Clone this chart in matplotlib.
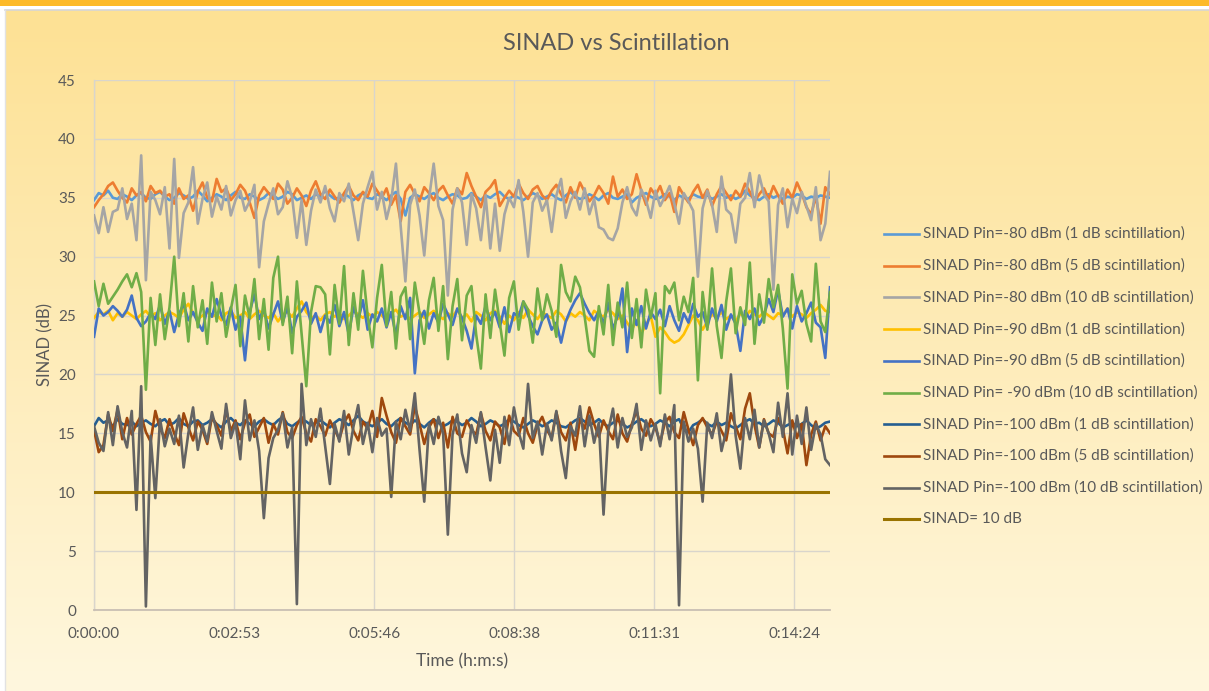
import numpy as np
import matplotlib
matplotlib.use("Agg")
import matplotlib.pyplot as plt
from matplotlib.lines import Line2D
from matplotlib.colors import to_rgb

# ---------------- data ----------------
sample_step_s = 5.82  # seconds between samples
tick_labels = ["0:00:00", "0:02:53", "0:05:46", "0:08:38", "0:11:31", "0:14:24"]
tick_step_s = 172.8
y_ticks = [0, 5, 10, 15, 20, 25, 30, 35, 40, 45]

pin80_1db = [
    34.8, 35.4, 35.2, 35.6, 35.0, 34.9, 35.3, 35.1, 34.8, 35.2, 35.4, 35.0,
    34.9, 35.3, 35.5, 35.1, 34.8, 35.0, 35.4, 35.2, 34.9, 35.1, 35.6, 35.2,
    34.7, 35.0, 35.3, 35.1, 34.8, 35.2, 35.5, 35.0, 34.9, 35.3, 35.1, 34.8,
    35.0, 35.4, 35.2, 34.9, 35.1, 35.5, 35.3, 34.8, 35.0, 35.2, 34.9, 35.3,
    35.1, 35.6, 35.2, 34.9, 35.0, 35.3, 35.1, 34.8, 35.2, 35.4, 35.0, 34.9,
    35.3, 35.1, 34.8, 35.2, 35.5, 34.9, 33.5, 35.0, 35.3, 35.1, 34.9, 35.2,
    35.4, 35.0, 34.8, 35.1, 35.3, 35.2, 34.9, 35.0, 35.4, 35.1, 34.8, 35.2,
    35.0, 35.3, 35.5, 35.1, 34.9, 35.2, 35.0, 34.8, 35.1, 35.4, 35.2, 34.9,
    35.1, 35.3, 35.0, 34.8, 35.2, 35.5, 35.1, 34.9, 35.0, 35.3, 35.1, 34.8,
    35.2, 35.4, 35.0, 34.9, 35.1, 35.3, 34.6, 35.0, 35.2, 35.4, 35.1, 34.9,
    35.0, 35.3, 35.1, 34.8, 35.2, 35.0, 34.9, 35.3, 35.1, 35.0, 35.2, 34.9,
    35.1, 35.3, 35.0, 35.2, 34.9, 35.1, 35.6, 35.2, 35.0, 34.8, 35.1, 35.3,
    35.0, 35.2, 34.9, 35.1, 35.0, 35.3, 35.2, 34.9, 35.1, 35.0, 35.2, 35.1,
    35.0]

pin80_5db = [
    34.2, 34.8, 35.3, 36.0, 36.3, 35.6, 35.0, 34.6, 35.8, 35.2, 35.5, 34.7,
    36.0, 35.4, 35.6, 35.1, 35.3, 34.5, 35.8, 34.9, 35.2, 33.9, 35.5, 36.3,
    35.0, 34.7, 36.6, 35.5, 35.8, 34.8, 35.3, 36.1, 35.6, 34.6, 33.3, 35.2,
    35.9, 35.4, 34.9, 36.2, 35.7, 34.5, 35.0, 35.8, 35.2, 34.3, 35.6, 36.4,
    35.3, 34.9, 35.7, 35.1, 34.6, 35.4, 36.0, 35.2, 34.8, 35.5, 35.1, 36.2,
    35.6, 35.0, 35.8, 34.4, 35.2, 33.0, 35.5, 36.1, 35.3, 34.7, 35.9, 35.4,
    34.8, 35.6, 36.0, 35.2, 34.5, 35.8, 35.3, 37.1, 36.0, 35.1, 34.2, 35.5,
    35.9, 36.5, 34.3, 35.0, 35.6, 35.1, 36.2, 35.4, 34.9, 35.7, 36.0, 35.2,
    34.8, 35.6, 36.1, 35.3, 34.6, 35.9, 35.0, 36.3, 35.5, 34.7, 35.2, 36.0,
    35.4, 34.5, 36.8, 35.1, 35.7, 34.9, 35.3, 37.0, 35.6, 34.4, 35.8, 35.2,
    36.0, 34.8, 35.4, 33.8, 35.9, 35.2, 34.6, 35.5, 36.1, 35.0, 35.7, 34.3,
    35.3, 36.0, 35.4, 34.8, 35.6, 35.1, 36.2, 35.5, 34.7, 35.3, 35.8, 34.9,
    36.0, 35.2, 34.5, 35.7, 35.0, 36.3, 35.4, 34.2, 33.6, 35.1, 32.8, 35.9,
    35.3]

pin80_10db = [
    33.5, 32.0, 34.2, 32.1, 33.8, 34.0, 35.8, 33.2, 34.5, 31.4, 38.6, 28.0,
    35.5, 34.8, 33.6, 35.9, 30.7, 38.3, 29.9, 33.7, 34.6, 37.6, 32.8, 34.9,
    36.3, 33.4, 35.1, 34.0, 36.0, 33.5, 34.8, 35.6, 33.9, 34.7, 36.1, 29.1,
    33.0, 34.5, 35.8, 33.6, 34.2, 36.4, 35.0, 31.6, 34.8, 31.0, 33.9, 35.7,
    34.6, 36.0, 34.1, 33.0, 35.4, 34.7, 36.2, 33.8, 31.4, 34.5, 35.9, 37.2,
    34.0, 35.5, 33.2, 34.8, 37.9, 32.6, 27.9, 34.4, 35.7, 33.5, 30.1, 34.9,
    37.9, 34.3, 33.1, 26.7, 34.0, 35.8, 34.6, 31.0, 35.3, 34.1, 31.4, 35.2,
    30.7, 34.5, 30.5, 33.6, 35.0, 34.2, 36.5, 33.8, 30.0, 34.6, 35.4, 33.9,
    34.8, 32.1, 35.2, 36.6, 33.3, 34.7, 35.5, 34.0, 35.8, 33.6, 34.9, 32.5,
    32.3, 31.6, 31.4, 32.4, 34.6, 35.9, 34.2, 33.5, 35.7, 34.8, 33.3, 35.6,
    34.3, 35.1, 36.0, 34.5, 32.8, 35.4, 34.7, 33.9, 28.3, 34.1, 35.6, 34.4,
    32.1, 36.8, 34.0, 33.6, 31.2, 34.5, 35.0, 37.1, 34.2, 36.9, 35.3, 34.7,
    27.2, 34.4, 35.8, 32.5, 34.9, 33.7, 35.5, 34.3, 33.1, 35.9, 31.4, 32.8,
    37.2]

pin90_1db = [
    24.8, 25.3, 25.1, 25.4, 24.6, 25.2, 24.9, 25.3, 25.0, 24.7, 25.1, 25.4,
    24.9, 25.2, 24.6, 25.0, 25.3, 25.1, 24.8, 25.5, 26.0, 25.2, 24.7, 25.0,
    25.3, 24.9, 25.1, 24.6, 25.2, 25.4, 24.8, 25.0, 25.3, 24.7, 25.1, 25.4,
    25.0, 24.8, 25.2, 24.5, 25.1, 25.3, 24.9, 25.6, 26.2, 25.3, 24.8, 25.0,
    24.6, 25.1, 25.3, 24.9, 25.2, 24.7, 25.0, 25.4, 25.1, 24.8, 25.2, 24.9,
    25.3, 25.0, 24.6, 25.2, 25.5, 24.9, 25.1, 24.7, 25.0, 25.3, 24.8, 25.1,
    25.4, 25.0, 24.7, 25.2, 24.9, 25.5, 24.8, 25.1, 24.5, 25.3, 25.0, 24.6,
    25.2, 25.4, 24.9, 24.3, 25.0, 24.6, 25.3, 24.8, 25.5, 25.1, 24.7, 25.3,
    25.0, 24.8, 25.4, 25.1, 24.5, 25.2, 24.9, 25.3, 25.0, 24.6, 25.4, 25.1,
    24.9, 25.5, 25.2, 24.7, 25.0, 24.4, 23.8, 24.6, 23.5, 24.2, 25.0, 23.2,
    24.0, 23.6, 23.0, 22.7, 22.9, 23.4, 24.2, 25.0, 24.6, 23.8, 24.5, 25.1,
    24.8, 25.3, 24.7, 25.0, 24.5, 25.2, 24.8, 25.4, 25.1, 24.9, 25.3, 25.0,
    24.7, 25.2, 25.0, 25.6, 24.9, 25.3, 25.1, 24.8, 25.2, 25.5, 25.9, 25.4,
    25.3]

pin90_5db = [
    23.2, 25.6, 25.0, 25.3, 25.8, 25.4, 24.9, 25.5, 26.7, 24.8, 24.1, 24.5,
    25.2, 24.7, 25.9, 24.3, 25.4, 23.6, 25.1, 26.0, 24.6, 25.3, 24.4, 23.7,
    25.6, 24.9, 26.4, 25.0, 24.2, 25.7, 23.8, 24.9, 21.2, 25.3, 26.8, 24.7,
    25.5, 23.9, 25.1, 26.2, 24.4, 25.8, 23.5, 24.9, 25.4, 26.1, 24.3, 25.2,
    23.6, 25.0, 24.4, 25.9, 24.1, 25.3, 23.4, 25.7, 24.6, 26.3, 23.8, 25.1,
    24.5, 25.6, 24.0, 25.3, 23.3, 25.8, 24.7, 26.5, 20.1, 24.6, 25.4, 23.9,
    25.2, 24.4, 26.0, 25.1, 24.2, 25.6, 24.8, 23.7, 22.2, 25.0, 24.3, 25.8,
    24.6, 25.3, 24.0, 25.7, 23.6, 25.2, 24.9, 26.2, 25.0, 24.1, 23.4, 24.6,
    25.1, 23.8, 24.4, 22.7, 24.5, 25.5, 26.3, 26.9, 26.0, 25.2, 24.6, 25.4,
    24.3, 26.1, 23.8, 25.0, 27.3, 21.9, 25.6, 24.2, 25.8, 23.9, 25.3, 24.7,
    25.5, 24.1, 25.8, 24.6, 23.7, 25.2, 24.4, 26.0, 24.9, 25.3, 24.0, 25.6,
    24.5, 25.9, 23.8, 25.1, 24.3, 22.0, 25.4, 24.7, 25.6, 24.2, 25.0, 26.4,
    25.3, 27.2, 24.9, 25.6, 23.9, 25.8, 24.5, 25.2, 26.1, 24.4, 24.0, 21.4,
    27.4]

pin90_10db = [
    27.9, 25.8, 27.7, 26.0, 26.6, 27.2, 27.9, 28.5, 27.4, 28.6, 27.0, 18.7,
    26.5, 22.5, 26.8, 23.0, 25.7, 30.0, 24.1, 26.9, 22.8, 27.5, 24.0, 26.3,
    22.6, 27.8, 24.5, 26.9, 23.2, 25.5, 27.6, 22.4, 26.7, 24.8, 28.1, 23.0,
    26.4, 22.1, 28.2, 30.0, 24.2, 26.6, 21.8, 27.9, 23.5, 19.0, 25.3, 27.5,
    27.4, 26.8, 21.7, 27.6, 24.3, 29.2, 22.5, 26.9, 23.8, 28.8, 25.0, 22.3,
    26.5, 29.3, 24.1, 27.0, 22.2, 26.6, 27.4, 23.0, 27.8, 25.2, 22.6, 26.3,
    28.2, 23.7, 27.5, 21.3, 25.8, 28.1, 22.9, 26.7, 27.5, 23.4, 20.5, 26.8,
    23.1, 27.2, 24.4, 21.6, 26.5, 27.9, 23.8, 26.2, 25.5, 22.7, 27.3, 24.6,
    26.8, 25.4, 23.2, 29.3, 27.0, 26.2, 28.3, 27.4, 24.9, 22.0, 21.5, 25.8,
    23.4, 27.6, 22.5, 26.1, 24.0, 27.8, 23.1, 26.4, 22.3, 27.2, 24.8, 26.9,
    18.4, 27.5, 26.9, 27.8, 24.6, 26.6, 25.3, 28.2, 19.5, 27.0, 23.8, 29.0,
    24.1, 21.4, 26.2, 29.0, 23.5, 25.7, 24.2, 29.5, 22.6, 26.8, 24.4, 28.1,
    25.7, 27.6, 23.9, 18.8, 28.5, 26.0, 27.1, 24.3, 22.8, 29.4, 24.5, 23.6,
    27.0]

pin100_1db = [
    15.6, 16.3, 15.9, 16.1, 15.6, 16.2, 15.8, 15.7, 16.0, 15.6, 15.9, 16.1,
    15.8, 15.6, 16.0, 16.2, 15.7, 15.9, 16.3, 15.8, 15.6, 16.0, 16.1, 15.7,
    15.9, 16.2, 15.8, 15.5, 16.0, 16.3, 15.9, 15.7, 16.1, 15.8, 15.6, 16.0,
    16.2, 15.9, 15.7, 16.1, 16.4, 15.8, 15.6, 15.9, 16.2, 16.0, 15.7, 15.9,
    16.1, 15.8, 15.5, 15.9, 16.2, 16.0, 15.7, 16.1, 16.5, 16.0, 15.8, 15.6,
    15.9, 16.2, 15.8, 15.6, 16.0, 16.3, 15.9, 15.7, 16.1, 15.8, 15.5, 15.9,
    16.2, 15.9, 15.6, 15.8, 16.1, 16.0, 15.7, 15.9, 16.3, 16.0, 15.6, 15.8,
    16.1, 15.9, 15.6, 15.8, 16.2, 16.0, 15.7, 15.5, 15.8, 16.1, 15.9, 15.6,
    15.8, 16.1, 15.9, 15.6, 15.5, 15.8, 16.1, 16.3, 16.0, 15.7, 15.9, 16.2,
    15.8, 15.6, 15.9, 16.1, 15.8, 15.5, 15.7, 16.0, 16.2, 15.9, 15.6, 15.8,
    16.1, 15.9, 15.6, 16.0, 16.2, 15.4, 15.1, 15.7, 15.9, 16.2, 15.8, 15.6,
    16.0, 15.7, 15.9, 15.6, 15.4, 15.7, 16.0, 16.2, 15.8, 15.9, 15.6, 15.8,
    16.1, 15.9, 15.5, 15.7, 15.9, 15.6, 15.8, 16.1, 15.7, 15.4, 15.6, 15.9,
    16.0]

pin100_5db = [
    15.3, 13.4, 14.0, 16.6, 15.2, 17.0, 14.5, 16.3, 14.9, 15.8, 16.5, 15.1,
    14.3, 16.9, 15.4, 14.6, 16.2, 15.0, 14.0, 16.7, 15.5, 14.4, 16.0, 15.3,
    14.1, 16.4, 15.7, 14.8, 17.0, 15.2, 16.1, 14.5, 15.9, 16.6, 14.7, 15.5,
    16.3, 14.2, 15.8, 14.9, 16.8, 15.1, 14.6, 15.7, 16.4, 15.0, 14.3, 16.2,
    15.6, 14.8, 16.1, 15.3, 14.5, 15.9, 16.6, 15.2, 14.4, 16.0, 15.4, 16.9,
    14.7, 18.0, 16.5, 15.1, 14.2, 16.3, 15.6, 14.9, 17.3, 15.8, 14.1, 15.5,
    16.2, 14.6, 15.9, 13.8, 16.4, 15.0, 14.7, 16.1, 15.3, 14.9, 16.7, 15.2,
    14.4, 16.0, 15.5, 14.1, 16.5, 15.2, 14.8, 16.3, 15.0, 14.2, 15.7, 16.4,
    15.3, 14.6, 16.8, 15.1, 14.4, 15.9, 13.6, 16.2, 15.4, 17.2, 15.8, 14.7,
    16.1, 15.2, 14.5, 16.6, 15.0, 14.3, 15.8, 16.9, 15.4, 14.8, 16.2, 15.5,
    14.2, 15.9, 16.4, 15.1, 14.6, 16.8, 15.3, 14.0, 15.7, 16.3, 15.5, 14.9,
    16.0, 15.2, 14.4, 16.7, 15.6, 14.5, 17.1, 18.4, 15.7, 13.8, 16.2, 15.0,
    14.7, 16.3, 15.4, 13.3, 16.1, 14.6, 15.8, 12.3, 14.9, 16.0, 14.4, 15.6,
    15.0]

pin100_10db = [
    15.6, 14.2, 13.5, 16.8, 14.0, 17.3, 15.1, 13.8, 16.9, 8.5, 19.0, 0.3,
    14.8, 9.5, 16.2, 13.9, 15.4, 14.1, 16.5, 12.1, 15.0, 17.2, 13.6, 15.7,
    14.3, 16.8, 15.2, 13.7, 17.5, 14.6, 15.9, 12.8, 17.8, 14.4, 16.1, 13.5,
    7.8, 12.9, 14.6, 15.3, 16.7, 13.8, 15.5, 0.5, 19.2, 14.0, 16.2, 14.7,
    17.1, 13.9, 10.7, 15.8, 14.3, 16.9, 13.2, 15.6, 17.4, 14.1, 15.9, 13.4,
    16.3, 14.8, 15.4, 9.6, 16.0, 14.5, 17.0, 15.2, 18.4, 13.6, 9.2, 15.8,
    14.1, 16.4, 15.0, 6.4, 14.9, 16.6, 13.3, 11.7, 15.7, 14.2, 16.8, 13.8,
    11.0, 15.3, 12.5, 16.4, 14.0, 17.2, 15.1, 13.7, 19.2, 14.6, 16.0, 13.2,
    15.8, 14.4, 16.9, 13.5, 11.2, 15.6, 14.8, 17.3, 13.9, 16.5, 14.2, 15.9,
    8.1, 15.2, 17.1, 13.8, 16.3, 14.7, 15.5, 17.5, 13.6, 16.1, 14.4, 15.8,
    13.9, 16.6, 14.5, 17.4, 0.4, 16.0, 14.3, 15.4, 13.7, 9.2, 15.9, 14.6,
    16.7, 13.5, 15.2, 20.0, 14.8, 12.0, 16.3, 14.5, 17.0, 13.8, 16.1, 15.0,
    13.4, 17.6, 14.7, 18.4, 13.2, 16.5, 14.1, 17.2, 13.6, 15.8, 14.9, 12.8,
    12.3]

threshold_db = 10.0

series_labels = [
    "SINAD Pin=-80 dBm (1 dB scintillation)",
    "SINAD Pin=-80 dBm (5 dB scintillation)",
    "SINAD Pin=-80 dBm (10 dB scintillation)",
    "SINAD Pin=-90 dBm (1 dB scintillation)",
    "SINAD Pin=-90 dBm (5 dB scintillation)",
    "SINAD Pin= -90 dBm (10 dB scintillation)",
    "SINAD Pin=-100 dBm (1 dB scintillation)",
    "SINAD Pin=-100 dBm (5 dB scintillation)",
    "SINAD Pin=-100 dBm (10 dB scintillation)",
    "SINAD= 10 dB",
]
series_colors = ["#5B9BD5", "#ED7D31", "#A5A5A5", "#FFC000", "#4472C4",
                 "#70AD47", "#255E91", "#9E480E", "#636363", "#997300"]

# ---------------- figure ----------------
W, H = 1209, 691
fig = plt.figure(figsize=(W / 100, H / 100), dpi=100)
fig.patch.set_facecolor("white")

# background: orange band, white strip, gradient chart area
bg = fig.add_axes([0, 0, 1, 1], zorder=-10)
bg.set_xlim(0, W)
bg.set_ylim(H, 0)
bg.axis("off")
top_c = np.array(to_rgb("#FDE194"))
bot_c = np.array(to_rgb("#FFF7DE"))
fr = np.linspace(0, 1, 256)[:, None, None]
grad = top_c[None, None, :] * (1 - fr) + bot_c[None, None, :] * fr
grad = np.repeat(grad, 2, axis=1)
bg.imshow(grad, extent=[5, W, H, 10], aspect="auto", interpolation="bilinear", zorder=0)
bg.add_patch(plt.Rectangle((0, 0), W, 6, color="#FDBA28", lw=0, zorder=1))
bg.plot([5, W], [10, 10], color="#D6D6D6", lw=1.2, zorder=2)
bg.plot([5, 5], [10, H], color="#E2E2E2", lw=1.0, zorder=2)

# plot area
left, right, top, bottom = 94, 830, 80, 610
ax = fig.add_axes([left / W, 1 - bottom / H, (right - left) / W, (bottom - top) / H])
ax.set_facecolor("none")

n = len(pin80_1db)
t = np.arange(n) * sample_step_s
all_series = [pin80_1db, pin80_5db, pin80_10db, pin90_1db, pin90_5db,
              pin90_10db, pin100_1db, pin100_5db, pin100_10db]
for vals, col, lab in zip(all_series, series_colors, series_labels):
    ax.plot(t, vals, color=col, lw=1.9, label=lab, solid_joinstyle="round", zorder=3)
ax.plot(t, np.full(n, threshold_db), color=series_colors[-1], lw=2.2,
        label=series_labels[-1], zorder=3)

ax.set_xlim(0, t[-1])
ax.set_ylim(0, 45)
ax.set_yticks(y_ticks)
ax.set_xticks([tick_step_s * k for k in range(len(tick_labels))])
ax.set_xticklabels(tick_labels)

font = "Lato"
txt_col = "#595959"
for lbl in ax.get_xticklabels() + ax.get_yticklabels():
    lbl.set_fontfamily(font)
    lbl.set_fontsize(11)
    lbl.set_color(txt_col)
ax.tick_params(axis="both", length=0)
ax.tick_params(axis="x", pad=12)
ax.tick_params(axis="y", pad=13)

ax.grid(True, color="#D9D5CC", lw=1.0, zorder=0)
ax.set_axisbelow(True)
for s in ["top", "right"]:
    ax.spines[s].set_visible(False)
ax.spines["left"].set_color("#D9D5CC")
ax.spines["left"].set_linewidth(1.0)
ax.spines["bottom"].set_color("#C9BFB3")
ax.spines["bottom"].set_linewidth(1.3)

fig.text(616 / W, 1 - 43 / H, "SINAD vs Scintillation", ha="center", va="center",
         fontsize=17, color=txt_col, family=font)
fig.text(462 / W, 1 - 661 / H, "Time (h:m:s)", ha="center", va="center",
         fontsize=12.5, color=txt_col, family=font)
fig.text(45 / W, 1 - 345 / H, "SINAD (dB)", ha="center", va="center", rotation=90,
         fontsize=12, color=txt_col, family=font)

# legend (manual)
y0, dy = 234, 31.7
for k, (col, lab) in enumerate(zip(series_colors, series_labels)):
    yy = y0 + k * dy
    lw = 2.2 if k == len(series_labels) - 1 else 1.9
    bg.add_line(Line2D([884, 919], [yy, yy], color=col, lw=lw, zorder=3))
    bg.text(923, yy, lab, ha="left", va="center", fontsize=11, color=txt_col,
            family=font, zorder=3)

fig.savefig("out.png", dpi=100)
